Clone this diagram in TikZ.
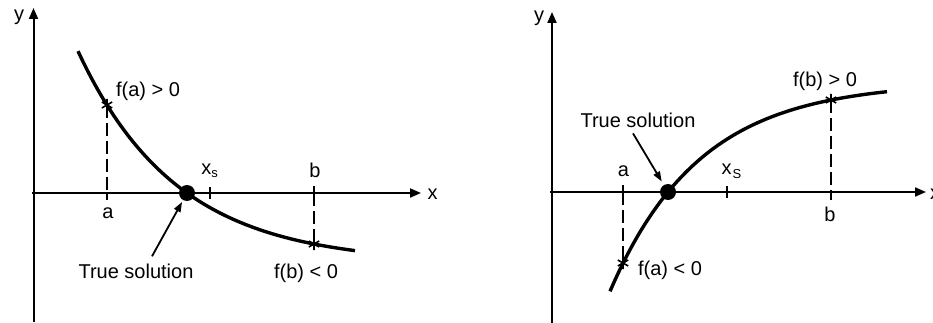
\documentclass[tikz,border=0pt]{standalone}
\usepackage{fontspec}
\setmainfont{Liberation Sans}
\usetikzlibrary{
  arrows.meta,
  positioning,
  plotmarks
}
\tikzset{
  % Coordinate axis with filled tip
  axis/.style={-{Triangle[length=11pt,width=9pt]}, line width=2pt},
  % Function curve
  fcurve/.style={line width=3.4pt},
  % Dashed drop line between curve and axis
  drop/.style={line width=2.4pt, dash pattern=on 13pt off 5pt},
  % Tick on the x axis
  tickm/.style={line width=2pt},
  % Dot at the root
  rootdot/.style={circle, fill=black, inner sep=0pt, minimum size=16pt},
  % Asterisk marker on the curve
  astm/.style={line width=1.6pt, only marks, mark=asterisk, mark size=6pt},
  % Text label
  lbl/.style={font=\fontsize{20}{24}\selectfont, inner sep=0pt, anchor=base},
  % Pointer arrow
  ptr/.style={-{Triangle[length=10pt,width=7pt]}, line width=1.8pt}
}

\begin{document}
\begin{tikzpicture}[x=1pt,y=-1pt]
  \useasboundingbox (0,0) rectangle (933,323);

  % ---------- Left: decreasing function ----------
  \draw[axis] (33.5,322) -- (33.5,8);
  \draw[axis] (32,193) -- (421,193);
  \node[lbl] (ylab1) at (19,21) {y};
  \node[lbl] (xlab1) at (432.5,199) {x};

  \draw[fcurve] plot[domain=78:355, samples=60, smooth]
    (\x, {263.5-70.5*exp(-0.01012*(\x-187))});

  \coordinate (sa1) at (107,105);
  \coordinate (sb1) at (314,244);
  \draw[drop] (sa1) -- (107,193);
  \draw[tickm] (107,193) -- (107,200);
  \draw[tickm] (314,186) -- (314,193);
  \draw[drop] (314,193) -- (sb1);
  \draw[tickm] (210,187) -- (210,199);
  \draw[astm] plot coordinates {(sa1) (sb1)};

  \node[rootdot] (root1) at (187,193) {};

  \node[lbl] (alab1) at (108,218) {a};
  \node[lbl] (blab1) at (315,177) {b};
  \node[lbl] (xslab1) at (209.5,175) {x\raisebox{-2.5pt}{\fontsize{13}{15}\selectfont s}};
  \node[lbl] (fa1) at (148,97) {f(a) > 0};
  \node[lbl] (fb1) at (306,278) {f(b) < 0};
  \node[lbl] (tsol1) at (136,278) {True solution};
  \draw[ptr, shorten >=2pt] ([xshift=16pt,yshift=7pt]tsol1.north) -- (root1);

  % ---------- Right: increasing function ----------
  \draw[axis] (552,323) -- (552,12);
  \draw[axis] (550,192) -- (926,192);
  \node[lbl] (ylab2) at (539,22) {y};
  \node[lbl, anchor=base west] (xlab2) at (930,199) {x};

  \draw[fcurve] plot[domain=610:887, samples=60, smooth]
    (\x, {82+110*exp(-0.0111*(\x-668))});

  \coordinate (sa2) at (623,263);
  \coordinate (sb2) at (831,100);
  \draw[tickm] (623,185) -- (623,192);
  \draw[drop] (623,192) -- (sa2);
  \draw[drop] (sb2) -- (831,192);
  \draw[tickm] (831,192) -- (831,200);
  \draw[tickm] (727,186) -- (727,198);
  \draw[astm] plot coordinates {(sa2) (sb2)};

  \node[rootdot] (root2) at (668,192) {};

  \node[lbl] (alab2) at (623.5,176) {a};
  \node[lbl] (blab2) at (830,221) {b};
  \node[lbl] (xslab2) at (731.5,175) {x\hspace{1pt}\raisebox{-4pt}{\fontsize{13}{15}\selectfont S}};
  \node[lbl] (fb2) at (825,87) {f(b) > 0};
  \node[lbl] (fa2) at (670,275) {f(a) < 0};
  \node[lbl] (tsol2) at (638,128) {True solution};
  \draw[ptr, shorten >=4pt] ([xshift=-5pt,yshift=-5pt]tsol2.south) -- (root2);
\end{tikzpicture}
\end{document}
